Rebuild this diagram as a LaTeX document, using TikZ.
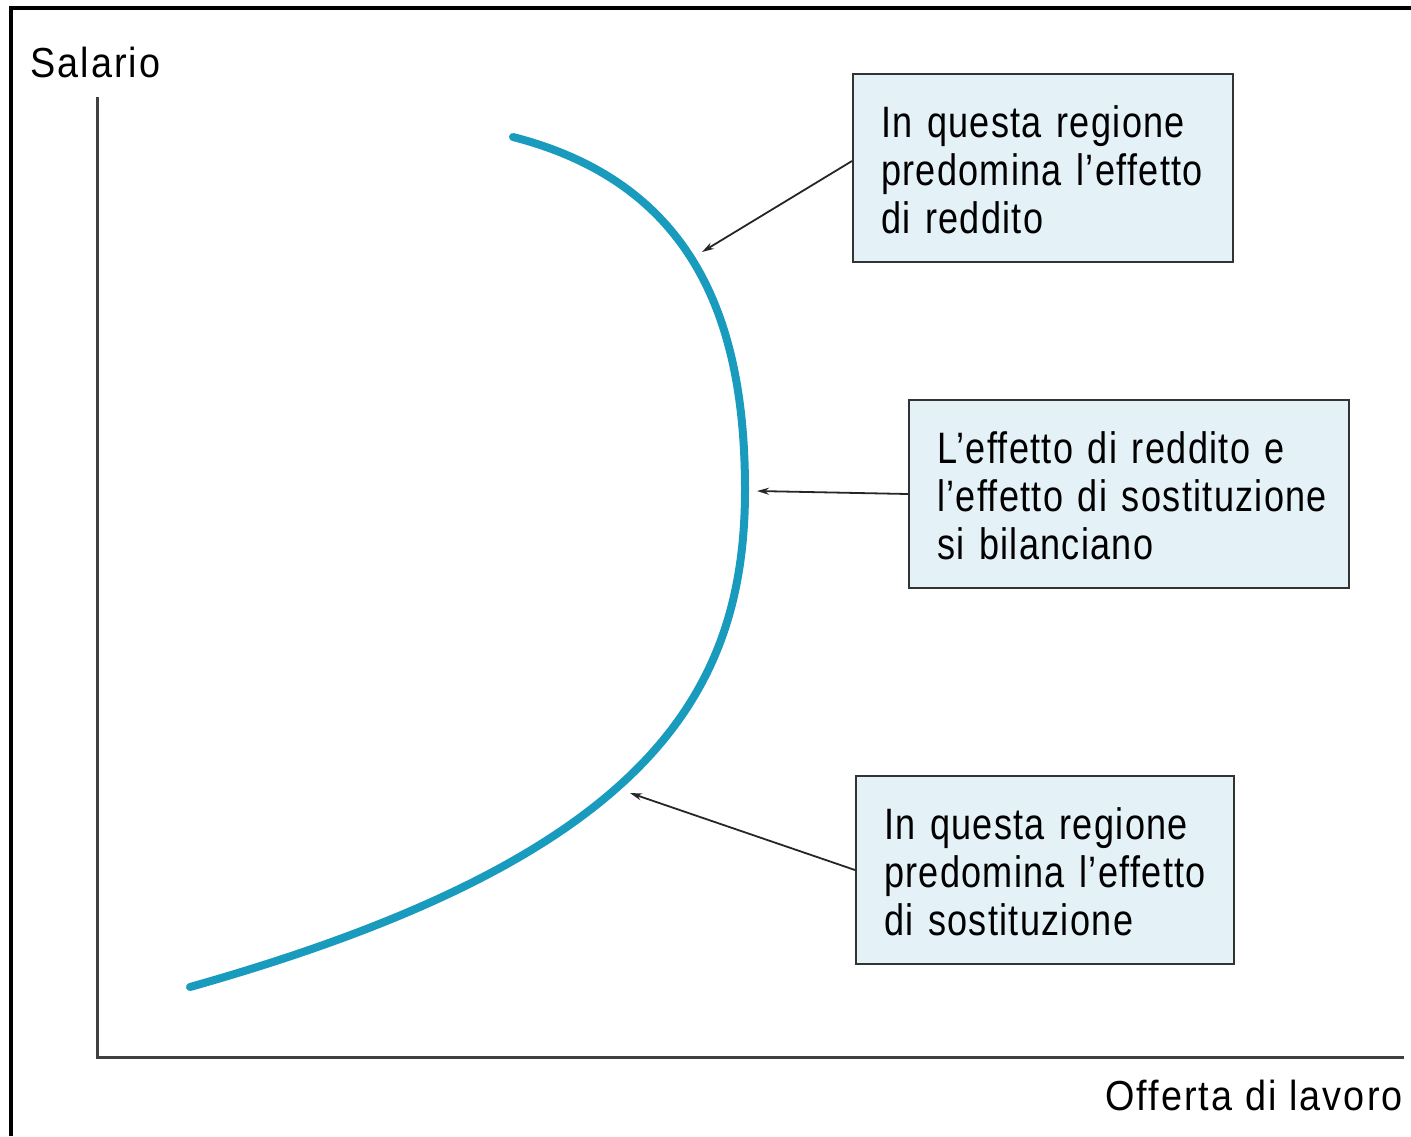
\documentclass[tikz,border=0pt]{standalone}
\usepackage{fontspec}
\setmainfont{Liberation Sans}
\newfontfamily\boxfont[FakeStretch=0.82,LetterSpace=3]{Liberation Sans}
\newfontfamily\axisfont[FakeStretch=0.9,LetterSpace=5]{Liberation Sans}
\usetikzlibrary{shapes}
\usetikzlibrary{positioning}
\usetikzlibrary{arrows.meta}
\definecolor{curveblue}{RGB}{25,155,190}
\definecolor{boxfill}{RGB}{228,241,247}
\newcommand{\boxlines}[1]{\raisebox{-8pt}[\height][\depth]{\begin{tabular}{@{}l@{}}#1\end{tabular}}}

\begin{document}
\begin{tikzpicture}[x=1pt,y=-1pt,tbox/.style={draw=black!80,line width=2pt,fill=boxfill,anchor=north west,inner xsep=28pt,inner ysep=0pt,minimum height=188pt,text width=#1,align=left,font=\boxfont\fontsize{44}{48}\selectfont}, lbl/.style={inner sep=0pt,font=\axisfont\fontsize{42}{48}\selectfont}, pointer/.style={-{Stealth[length=12pt,width=7pt]},line width=1.8pt,black!85}, supply/.style={draw=curveblue,line width=8pt,line cap=round}]
	
	\useasboundingbox (0,0) rectangle (1411,1136);
	\draw[line width=4pt] (10.5,1136) -- (10.5,8) -- (1411,8);
	
	% axes
	\coordinate (o) at (97,1057);
	\coordinate (ytop) at (97,97);
	\coordinate (xend) at (1404,1057);
	\draw[line width=3pt,black!75] (ytop) -- (o) -- (xend);
	\node[lbl,anchor=west] (sal) at (30,62) {Salario};
	\node[lbl,anchor=east] (off) at (1403,1095) {Offerta di lavoro};
	
	% supply curve
	\draw[supply] (190,987) .. controls (640,860) and (745,700) .. (745,490) .. controls (745,330) and (700,185) .. (513,137);
	\coordinate (c1) at (702,252);
	\coordinate (c2) at (757,491);
	\coordinate (c3) at (630,793);
	
	% boxes
	\node[tbox=324pt] (b1) at (852,73) {\boxlines{In questa regione\\predomina l’effetto\\di reddito}};
	\node[tbox=384pt] (b2) at (908,399) {\boxlines{L’effetto di reddito e\\l’effetto di sostituzione\\si bilanciano}};
	\node[tbox=322pt] (b3) at (855,775) {\boxlines{In questa regione\\predomina l’effetto\\di sostituzione}};
	
	\draw[pointer] ([yshift=7pt]b1.west) -- (c1);
	\draw[pointer] (b2.west) -- (c2);
	\draw[pointer] (b3.west) -- (c3);
\end{tikzpicture}
\end{document}
